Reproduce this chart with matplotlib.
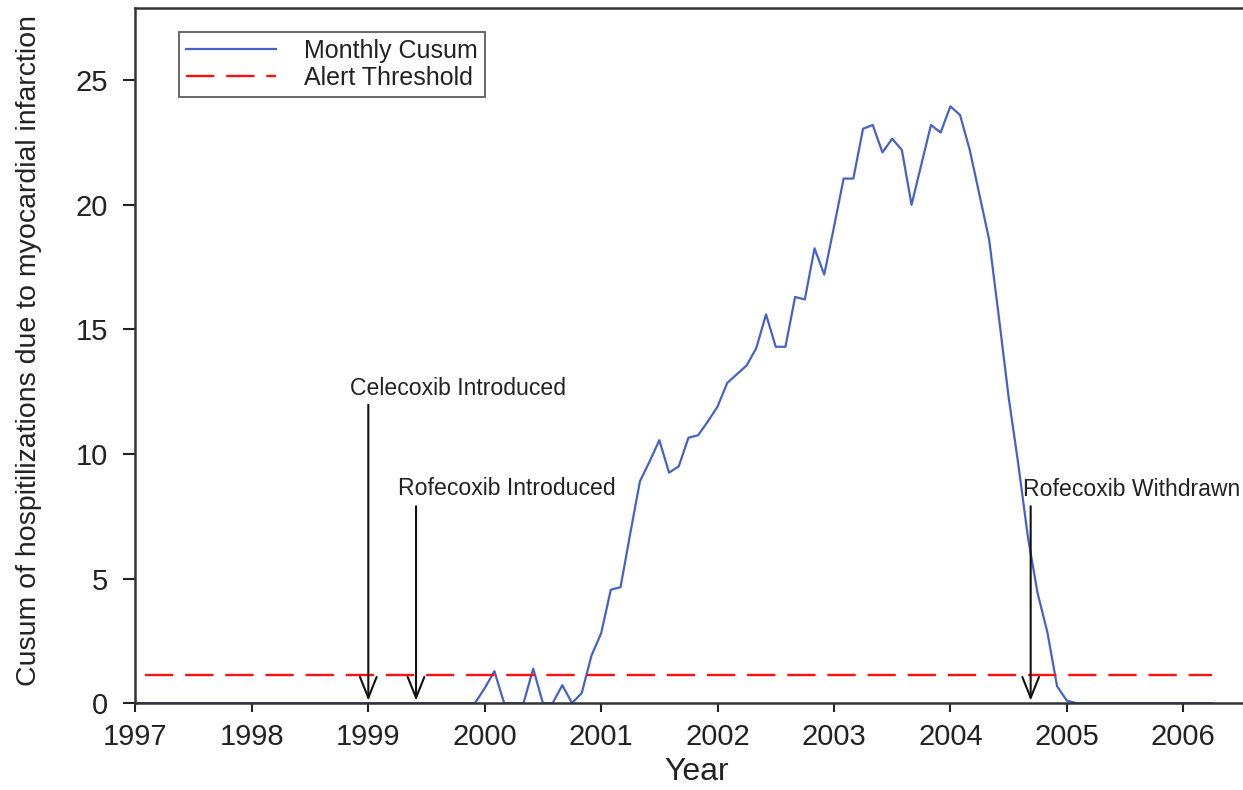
import matplotlib
matplotlib.use("Agg")
import matplotlib.pyplot as plt
import numpy as np

plt.rcParams['font.family'] = ['Liberation Sans', 'DejaVu Sans']

# monthly cusum, Jan 1997 .. Apr 2006
start_year = 1997
cusum = ([0.0] * 36 +
         [0.6, 1.28, 0, 0, 0, 1.38, 0, 0, 0.72, 0, 0.4, 1.9,        # 2000
          2.8, 4.55, 4.65, 6.8, 8.9, 9.7, 10.55, 9.25, 9.5, 10.65, 10.75, 11.3,   # 2001
          11.9, 12.85, 13.2, 13.55, 14.25, 15.6, 14.3, 14.3, 16.3, 16.2, 18.25, 17.2,  # 2002
          19.1, 21.05, 21.05, 23.05, 23.2, 22.1, 22.65, 22.2, 20.0, 21.6, 23.2, 22.9,  # 2003
          23.95, 23.6, 22.2, 20.4, 18.6, 15.5, 12.3, 9.6, 6.65, 4.4, 2.85, 0.68,       # 2004
          0.1] +
         [0.0] * 15)
months = start_year + np.arange(len(cusum)) / 12.0

alert_level = 1.12
alert_span = [1997.083, 2006.25]

events = ["Celecoxib Introduced", "Rofecoxib Introduced", "Rofecoxib Withdrawn"]
event_x = [1999.0, 1999.41, 2004.69]
arrow_top = [11.97, 7.9, 7.9]
label_x = [1998.84, 1999.254, 2004.62]
label_y = [12.37, 8.35, 8.3]

fig = plt.figure(figsize=(12.43, 7.9), dpi=100)
ax = fig.add_axes([0.109, 0.110, 0.891, 0.880])

ax.plot(months, cusum, color='#4462c8', lw=1.6, label='Monthly Cusum')
thr, = ax.plot(alert_span, [alert_level, alert_level], color='#ff1010', lw=1.7,
               label='Alert Threshold')
thr.set_dashes((12, 5))

for name, ex, top, lx, ly in zip(events, event_x, arrow_top, label_x, label_y):
    ax.annotate('', xy=(ex, 0.1), xytext=(ex, top),
                arrowprops=dict(arrowstyle='->,head_length=0.75,head_width=0.3',
                                lw=1.5, color='#111111', mutation_scale=20,
                                shrinkA=0, shrinkB=0))
    ax.text(lx, ly, name, fontsize=16.6, color='#222222', va='baseline', ha='left')

ax.set_xlim(1997, 2006.514)
ax.set_ylim(0, 27.9)
ax.set_xticks(range(1997, 2007))
ax.set_yticks([0, 5, 10, 15, 20, 25])
ax.tick_params(direction='out', width=1.5, labelsize=21, colors='#222222')
ax.tick_params(axis='x', length=6.5, pad=8)
ax.tick_params(axis='y', length=9, pad=11)
ax.spines['right'].set_visible(False)
for s in ['left', 'top', 'bottom']:
    ax.spines[s].set_linewidth(1.8)
    ax.spines[s].set_color('#333333')

fig.text(29.5 / 1243, 1 - 351 / 790,
         'Cusum of hospitilizations due to myocardial infarction',
         rotation=90, ha='center', va='center', fontsize=20.5, color='#222222')
fig.text(697 / 1243, 1 - 757 / 790, 'Year', ha='center', va='top',
         fontsize=23, color='#222222')

leg = ax.legend(loc='upper left', bbox_to_anchor=(0.039, 0.966), fontsize=18,
                frameon=True, fancybox=False, handlelength=3.6, borderpad=0.3,
                labelspacing=0.1, handletextpad=1.1, borderaxespad=0)
leg.get_frame().set_edgecolor('#333333')
leg.get_frame().set_linewidth(1.3)
for t in leg.get_texts():
    t.set_color('#222222')

fig.savefig('out.png', dpi=100)
